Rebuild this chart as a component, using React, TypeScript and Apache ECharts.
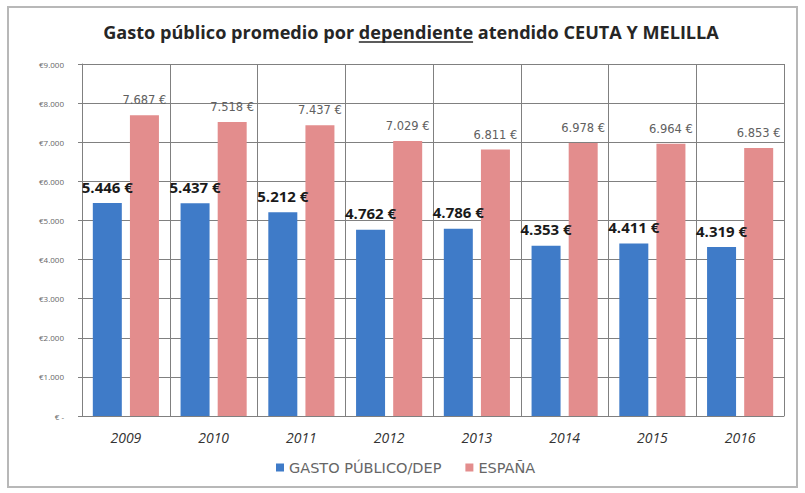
import React, { useEffect, useRef } from "react";
import * as echarts from "echarts";

const years = ["2009", "2010", "2011", "2012", "2013", "2014", "2015", "2016"];
const gastoPublico = [5446, 5437, 5212, 4762, 4786, 4353, 4411, 4319];
const espana = [7687, 7518, 7437, 7029, 6811, 6978, 6964, 6853];
const seriesNames = ["GASTO PÚBLICO/DEP", "ESPAÑA"];
const titleParts = ["Gasto público promedio por ", "dependiente", " atendido CEUTA Y MELILLA"];

const fmt = (v: number) => {
  const s = String(Math.round(v));
  return s.replace(/\B(?=(\d{3})+(?!\d))/g, ".");
};

export default function App() {
  const ref = useRef<HTMLDivElement>(null);
  useEffect(() => {
    if (!ref.current) return;
    const chart = echarts.init(ref.current, undefined, { renderer: "svg" });
    const cv = document.createElement("canvas").getContext("2d")!;
    const full = titleParts.join("");
    cv.font = "bold 15px 'Open Sans'";
    const w15 = cv.measureText(full).width || 510;
    const titleSize = Math.max(14, Math.min(19, (15 * 615) / w15));
    const titleFont = `bold ${titleSize.toFixed(1)}px 'Open Sans'`;
    cv.font = titleFont;
    const wFull = cv.measureText(full).width;
    const wPre = cv.measureText(titleParts[0]).width;
    const wDep = cv.measureText(titleParts[1]).width;
    const cx = 411;
    const left = cx - wFull / 2;
    chart.setOption({
      animation: false,
      backgroundColor: "#ffffff",
      textStyle: { fontFamily: "'Open Sans', sans-serif" },
      graphic: [
        {
          type: "rect",
          shape: { x: 8, y: 7, width: 789, height: 480 },
          style: { fill: "none", stroke: "#b8b8b8", lineWidth: 2 },
          silent: true,
        },
        {
          type: "text",
          x: cx,
          y: 32,
          style: {
            text: full,
            font: titleFont,
            fill: "#262626",
            textAlign: "center",
            textVerticalAlign: "middle",
          },
        },
        {
          type: "line",
          shape: { x1: left + wPre, y1: 42, x2: left + wPre + wDep, y2: 42 },
          style: { stroke: "#262626", lineWidth: 1.3 },
        },
      ],
      legend: {
        bottom: 13,
        left: 271,
        itemWidth: 8,
        itemHeight: 8,
        itemGap: 24,
        icon: "rect",
        textStyle: { fontSize: 14.5, color: "#666666", fontFamily: "'DejaVu Sans', sans-serif" },
        data: seriesNames,
      },
      grid: { left: 82, right: 21, top: 64, bottom: 77 },
      xAxis: {
        type: "category",
        data: years,
        axisLine: { lineStyle: { color: "#808080" } },
        axisTick: { show: false },
        splitLine: { show: true, lineStyle: { color: "#808080", width: 1 } },
        axisLabel: {
          fontSize: 14,
          color: "#333333",
          fontStyle: "italic",
          margin: 14,
          fontFamily: "'Open Sans', sans-serif",
        },
      },
      yAxis: {
        type: "value",
        min: 0,
        max: 9000,
        interval: 1000,
        axisLine: { show: true, lineStyle: { color: "#808080" } },
        axisTick: { show: true, length: 4, lineStyle: { color: "#808080" } },
        splitLine: { lineStyle: { color: "#808080", width: 1 } },
        axisLabel: {
          fontSize: 8,
          color: "#666666",
          margin: 18,
          formatter: (v: number) => (v === 0 ? "€ -" : "€" + fmt(v)),
        },
      },
      series: [
        {
          name: seriesNames[0],
          type: "bar",
          data: gastoPublico,
          barWidth: 29,
          barGap: "28%",
          itemStyle: { color: "#3f7bc8" },
          label: {
            show: true,
            position: "top",
            distance: 9,
            fontSize: 15,
            fontWeight: "bold",
            color: "#1a1a1a",
            formatter: (p: any) => fmt(p.value) + " €",
          },
        },
        {
          name: seriesNames[1],
          type: "bar",
          data: espana,
          barWidth: 29,
          itemStyle: { color: "#e38d8d" },
          label: {
            show: true,
            position: "top",
            distance: 9,
            fontSize: 11.5,
            color: "#606060",
            fontFamily: "'DejaVu Sans', sans-serif",
            formatter: (p: any) => fmt(p.value) + " €",
          },
        },
      ],
    });
    return () => chart.dispose();
  }, []);
  return (
    <div
      ref={ref}
      style={{ position: "absolute", left: 0, top: 0, width: 805, height: 493 }}
    />
  );
}
